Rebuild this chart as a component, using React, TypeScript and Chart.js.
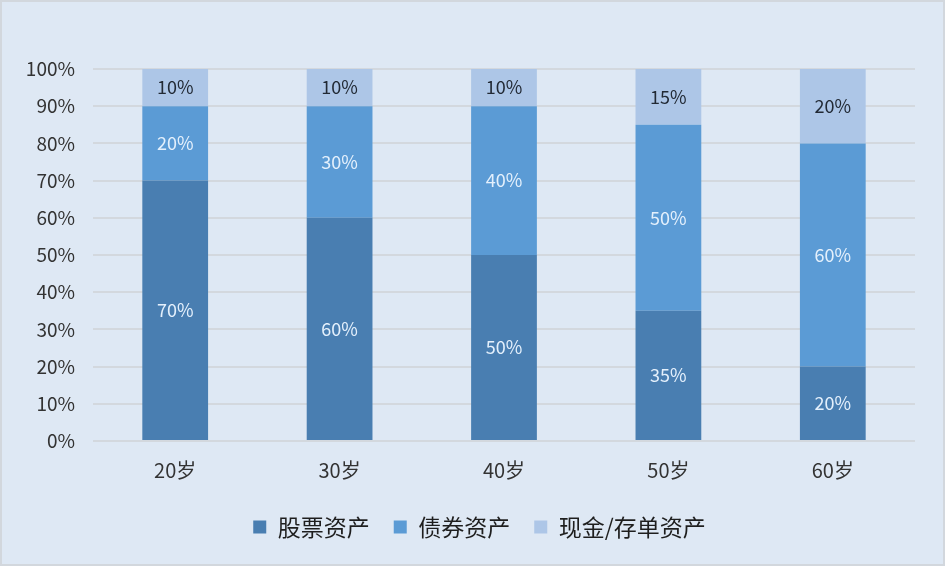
import {useEffect, useRef} from 'react';
import {Chart, registerables} from 'chart.js';

Chart.register(...registerables);

const categories = ['20岁', '30岁', '40岁', '50岁', '60岁'];
const stockShare = [70, 60, 50, 35, 20];
const bondShare = [20, 30, 40, 50, 60];
const cashShare = [10, 10, 10, 15, 20];
const yTicks = [0, 10, 20, 30, 40, 50, 60, 70, 80, 90, 100];

const FONT = '"Noto Sans CJK SC", "Noto Sans", sans-serif';

// draws the % value in the middle of each bar segment
const segmentLabels = {
	id: 'segmentLabels',
	afterDatasetsDraw(chart: any) {
		const ctx = chart.ctx;
		ctx.save();
		ctx.font = `18px ${FONT}`;
		ctx.textAlign = 'center';
		ctx.textBaseline = 'middle';
		chart.data.datasets.forEach((ds: any, i: number) => {
			const meta = chart.getDatasetMeta(i);
			ctx.fillStyle = i === 2 ? '#222a35' : '#e4f0fc';
			meta.data.forEach((bar: any, j: number) => {
				const y = (bar.y + bar.base) / 2;
				ctx.fillText(ds.data[j] + '%', bar.x, y);
			});
		});
		ctx.restore();
	}
};

// legend sits a bit right of the canvas centre in the original
const legendShift = {
	id: 'legendShift',
	afterLayout(chart: any) {
		if (chart.legend) {
			chart.legend.left += 21;
			chart.legend.right += 21;
		}
	}
};

export default function App() {
	const chartRef: any = useRef();

	useEffect(() => {
		if (!chartRef?.current) return;
		const chart = new Chart(chartRef.current.getContext('2d'), {
			type: 'bar',
			data: {
				labels: categories,
				datasets: [
					{label: '股票资产', data: stockShare, backgroundColor: '#497eb1'},
					{label: '债券资产', data: bondShare, backgroundColor: '#5b9bd5'},
					{label: '现金/存单资产', data: cashShare, backgroundColor: '#adc6e7'}
				]
			},
			options: {
				animation: false,
				responsive: false,
				maintainAspectRatio: false,
				layout: {padding: {left: 0, right: 28, top: 67, bottom: 15.5}},
				datasets: {bar: {categoryPercentage: 1, barPercentage: 0.4}},
				scales: {
					x: {
						stacked: true,
						grid: {display: false, drawTicks: false},
						border: {display: false},
						ticks: {color: '#333', padding: 17, font: {family: FONT, size: 20}},
						afterFit: (scale: any) => {
							scale.height = 50.5;
						}
					},
					y: {
						stacked: true,
						min: 0,
						max: 100,
						afterBuildTicks: (scale: any) => {
							scale.ticks = yTicks.map((v) => ({value: v}));
						},
						grid: {color: '#d3d8de', lineWidth: 2, drawTicks: false},
						border: {display: false},
						ticks: {
							color: '#333',
							padding: 18,
							font: {family: FONT, size: 19},
							callback: (v: any) => v + '%'
						},
						afterFit: (scale: any) => {
							scale.width = 91;
						}
					}
				},
				plugins: {
					legend: {
						position: 'bottom',
						labels: {
							color: '#1e1e1e',
							boxWidth: 13,
							boxHeight: 13,
							padding: 24,
							font: {family: FONT, size: 23}
						}
					},
					tooltip: {enabled: false}
				}
			},
			plugins: [segmentLabels, legendShift]
		});
		return () => {
			chart.destroy();
		};
	}, []);

	return (
		<div
			style={{
				position: 'fixed',
				left: 0,
				top: 0,
				width: 945,
				height: 566,
				boxSizing: 'border-box',
				border: '2px solid #d2d7dd',
				background: '#dee8f4'
			}}
		>
			<canvas ref={chartRef} width={941} height={562} style={{display: 'block'}} />
		</div>
	);
}
